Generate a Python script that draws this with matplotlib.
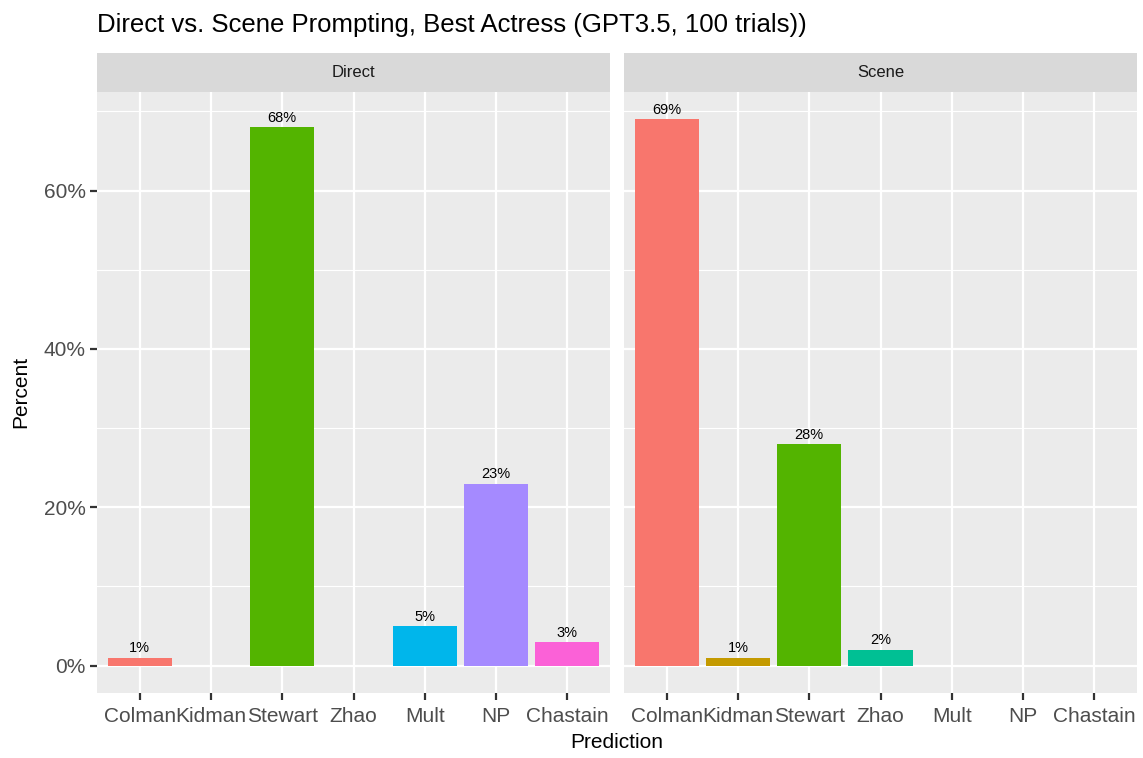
import numpy as np
import matplotlib.pyplot as plt
from matplotlib.ticker import FixedLocator

plt.rcParams['font.family'] = ['Liberation Sans', 'DejaVu Sans']

categories = ['Colman', 'Kidman', 'Stewart', 'Zhao', 'Mult', 'NP', 'Chastain']
colors = ['#F8766D', '#C49A00', '#53B400', '#00C094', '#00B6EB', '#A58AFF', '#FB61D7']
facets = ['Direct', 'Scene']
direct = [1, 0, 68, 0, 5, 23, 3]
scene = [69, 1, 28, 2, 0, 0, 0]
values = {'Direct': direct, 'Scene': scene}

W, H = 1143, 758
fig = plt.figure(figsize=(W / 100, H / 100), dpi=100)

panel_x = [(97, 610), (624, 1137)]
panel_top, panel_bot, strip_top = 92, 693, 53

ymax = max(max(direct), max(scene))
ylo, yhi = -0.05 * ymax, ymax * 1.05

def box(x0, x1, y0, y1):
    return [x0 / W, 1 - y1 / H, (x1 - x0) / W, (y1 - y0) / H]

x = np.arange(1, len(categories) + 1)
for i, name in enumerate(facets):
    x0, x1 = panel_x[i]
    ax = fig.add_axes(box(x0, x1, panel_top, panel_bot))
    ax.set_facecolor('#EBEBEB')
    for s in ax.spines.values():
        s.set_visible(False)
    ax.set_xlim(0.4, len(categories) + 0.6)
    ax.set_ylim(ylo, yhi)
    ax.yaxis.set_major_locator(FixedLocator([0, 20, 40, 60]))
    ax.yaxis.set_minor_locator(FixedLocator([10, 30, 50, 70]))
    ax.set_xticks(x)
    ax.set_xticklabels(categories, fontsize=15, color='#4D4D4D')
    ax.grid(True, which='major', color='white', linewidth=1.6)
    ax.grid(True, which='minor', axis='y', color='white', linewidth=0.8)
    ax.set_axisbelow(True)
    ax.tick_params(axis='both', which='major', length=5, width=1.6, color='#333333', pad=3)
    ax.tick_params(axis='x', which='major', pad=5)
    ax.tick_params(axis='y', which='minor', length=0)
    if i == 0:
        ax.set_yticklabels(['0%', '20%', '40%', '60%'], fontsize=15, color='#4D4D4D')
    else:
        ax.tick_params(axis='y', which='major', length=0, labelleft=False)
    v = values[name]
    ax.bar(x, v, width=0.9, color=colors)
    for xi, vi in zip(x, v):
        if vi > 0:
            ax.text(xi, vi + 0.3, f'{vi}%', ha='center', va='bottom', fontsize=10.5, color='black')

    sax = fig.add_axes(box(x0, x1, strip_top, panel_top))
    sax.set_facecolor('#D9D9D9')
    sax.set_xticks([])
    sax.set_yticks([])
    for s in sax.spines.values():
        s.set_visible(False)
    sax.text(0.5, 0.5, name, ha='center', va='center', fontsize=12, color='#1A1A1A',
             transform=sax.transAxes)

fig.text((97 + 1137) / 2 / W, 1 - 743 / H, 'Prediction', ha='center', va='center', fontsize=15)
fig.text(21 / W, 1 - 392 / H, 'Percent', ha='center', va='center', rotation=90, fontsize=15)
fig.text(97 / W, 1 - 25 / H, 'Direct vs. Scene Prompting, Best Actress (GPT3.5, 100 trials))',
         ha='left', va='center', fontsize=18.5)

fig.savefig('out.png', dpi=100)
